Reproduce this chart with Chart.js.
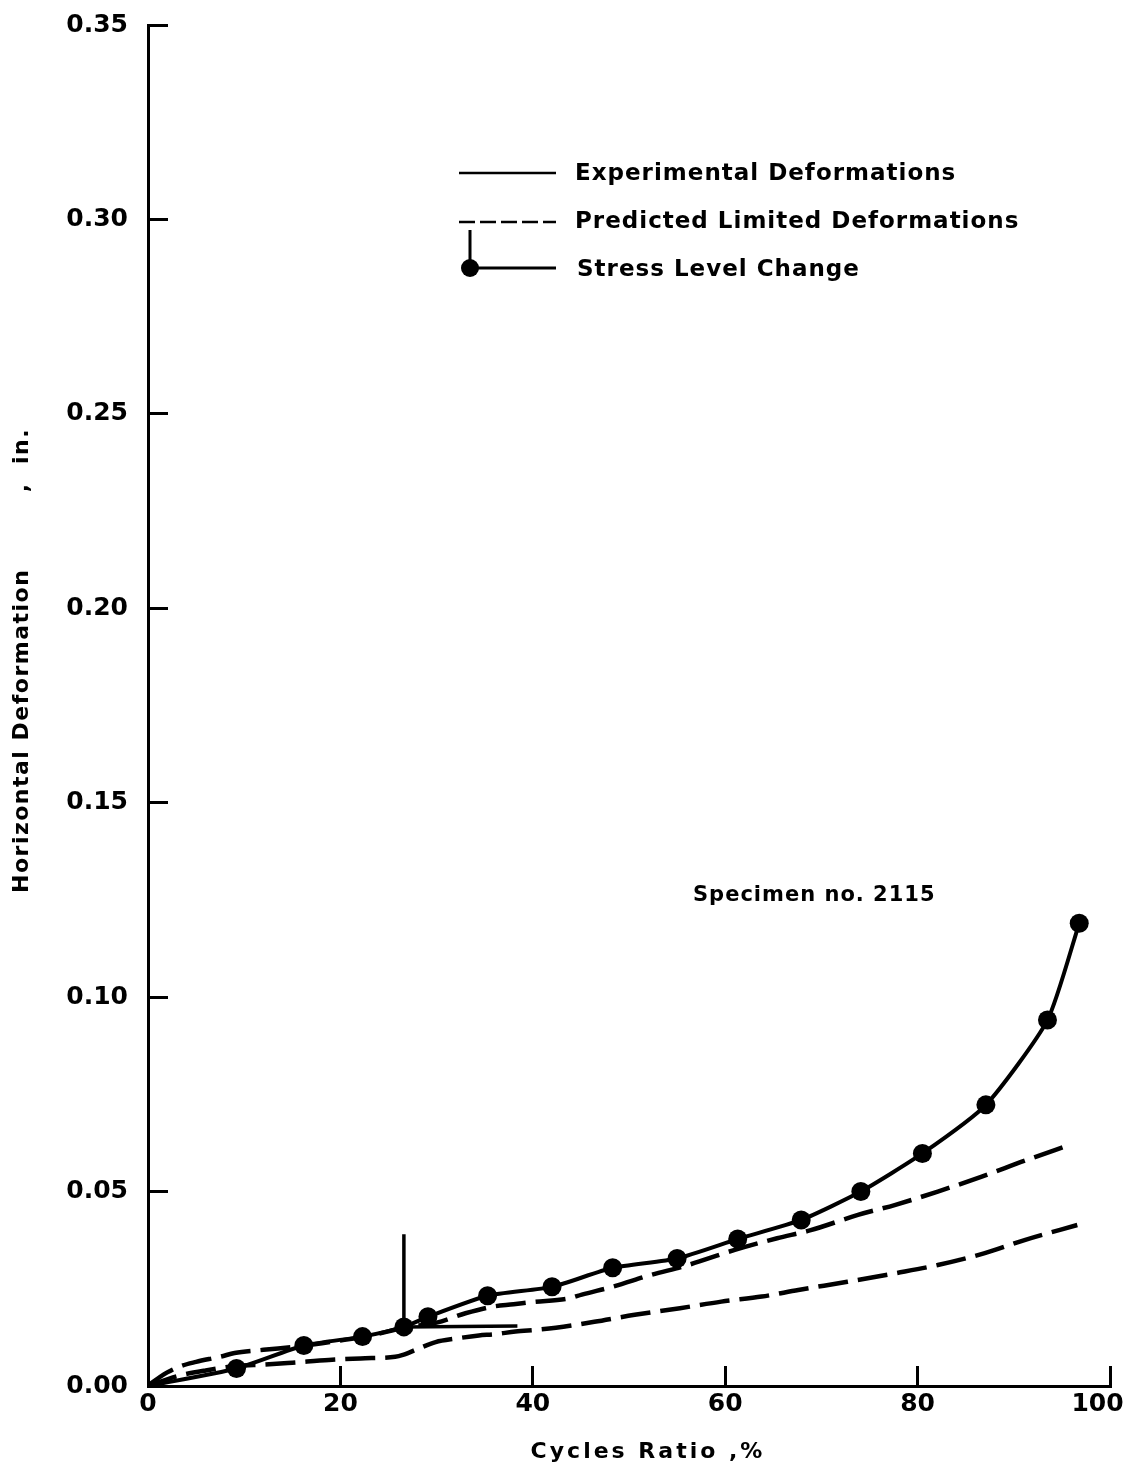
<!DOCTYPE html>
<html>
<head>
<meta charset="utf-8">
<title>Horizontal Deformation vs Cycles Ratio</title>
<script src="https://cdn.jsdelivr.net/npm/chart.js@4.4.1/dist/chart.umd.min.js"></script>
<style>
  html, body { margin: 0; padding: 0; background: #fff; }
  #wrap { width: 1125px; height: 1470px; }
</style>
</head>
<body>
<div id="wrap"><canvas id="deformChart" width="1125" height="1470"></canvas></div>
<script>
// Axis ticks
const xTicks = [0, 20, 40, 60, 80, 100];
const yTicks = [0, 0.05, 0.10, 0.15, 0.20, 0.25, 0.30, 0.35];

// Experimental deformations (measured, dots mark stress readings)
const expX = [0, 9.2, 16.2, 22.3, 26.6, 29.1, 35.3, 42.0, 48.3, 55.0, 61.3, 67.9, 74.1, 80.5, 87.1, 93.5, 96.8];
const expY = [0, 0.0045, 0.0104, 0.0127, 0.0152, 0.0178, 0.0232, 0.0255, 0.0304, 0.0328, 0.0378, 0.0427, 0.0500, 0.0598, 0.0723, 0.0941, 0.1190];

// Predicted limited deformations, upper curve
const predUpX = [0, 0.5, 2, 3.5, 5, 7.6, 9, 12, 16, 20, 23, 26.6, 30, 33, 35.8, 38, 40, 43.7, 45.1, 48.4, 52.2, 56, 61, 65.4, 68.8, 73.8, 77.7, 82.1, 86.6, 91.2, 95.8];
const predUpY = [0, 0.0010, 0.0035, 0.0052, 0.0062, 0.0076, 0.0085, 0.0093, 0.0103, 0.0117, 0.0129, 0.0150, 0.0163, 0.0187, 0.0204, 0.0210, 0.0216, 0.0225, 0.0235, 0.0256, 0.0285, 0.0310, 0.0350, 0.0380, 0.0400, 0.0440, 0.0466, 0.0500, 0.0538, 0.0580, 0.0620];

// Predicted limited deformations, lower curve
const predLowX = [0, 3, 6, 9.4, 12, 15, 18.8, 22.1, 25.7, 26.5, 28, 29.9, 32, 34.4, 36, 38.2, 40.6, 42.4, 46.4, 50.6, 55.3, 59.6, 63.8, 67.6, 72.7, 77.7, 82.1, 86.9, 91.2, 96.6];
const predLowY = [0, 0.0025, 0.0040, 0.0052, 0.0055, 0.0060, 0.0067, 0.0071, 0.0075, 0.0080, 0.0095, 0.0113, 0.0122, 0.0130, 0.0133, 0.0140, 0.0145, 0.0150, 0.0165, 0.0183, 0.0200, 0.0217, 0.0230, 0.0247, 0.0268, 0.0290, 0.0311, 0.0341, 0.0376, 0.0414];

// Stress level change marker
const stressX = [26.6, 26.6, 38.4];
const stressY = [0.039, 0.0152, 0.0154];

const toPoints = (xs, ys) => xs.map((x, i) => ({ x, y: ys[i] }));

const FONT = "'DejaVu Sans', 'Noto Sans', sans-serif";
Chart.defaults.font.family = FONT;
Chart.defaults.color = '#000';

// legend, specimen note and axis titles (letter-spaced lettering)
const figureText = {
  id: 'figureText',
  afterDraw(chart) {
    const ctx = chart.ctx;
    ctx.save();
    ctx.strokeStyle = '#000';
    ctx.fillStyle = '#000';
    ctx.lineCap = 'butt';

    // legend keys
    ctx.lineWidth = 2.5;
    ctx.beginPath(); ctx.moveTo(459, 173); ctx.lineTo(556, 173); ctx.stroke();
    ctx.setLineDash([16, 5]);
    ctx.beginPath(); ctx.moveTo(459, 222); ctx.lineTo(556, 222); ctx.stroke();
    ctx.setLineDash([]);
    ctx.lineWidth = 3;
    ctx.beginPath(); ctx.moveTo(470, 230); ctx.lineTo(470, 268); ctx.lineTo(556, 268); ctx.stroke();
    ctx.beginPath(); ctx.arc(470, 268, 9, 0, Math.PI * 2); ctx.fill();

    ctx.textBaseline = 'middle';
    ctx.textAlign = 'left';
    ctx.font = 'bold 23px ' + FONT;
    ctx.letterSpacing = '1px';
    ctx.fillText('Experimental Deformations', 575, 174);
    ctx.fillText('Predicted Limited Deformations', 575, 222);
    ctx.fillText('Stress Level Change', 577, 270);

    ctx.font = 'bold 21px ' + FONT;
    ctx.letterSpacing = '1px';
    ctx.fillText('Specimen no. 2115', 693, 896);

    // axis titles
    ctx.textAlign = 'center';
    ctx.font = 'bold 22px ' + FONT;
    ctx.letterSpacing = '3px';
    ctx.fillText('Cycles Ratio ,%', 648, 1452);

    ctx.letterSpacing = '1.5px';
    ctx.translate(22, 0);
    ctx.rotate(-Math.PI / 2);
    ctx.textAlign = 'left';
    ctx.fillText('Horizontal Deformation', -893, 0);
    ctx.textAlign = 'right';
    ctx.fillText(',  in.', -428, 0);
    ctx.restore();
  }
};

const tickFont = { family: FONT, weight: 'bold', size: 25 };

new Chart(document.getElementById('deformChart'), {
  type: 'line',
  data: {
    datasets: [
      {
        label: 'Experimental Deformations',
        data: toPoints(expX, expY),
        borderColor: '#000',
        backgroundColor: '#000',
        borderWidth: 4,
        pointRadius: expX.map(x => (x === 0 ? 0 : 9.5)),
        pointBackgroundColor: '#000',
        pointBorderWidth: 0,
        tension: 0.2,
        fill: false,
      },
      {
        label: 'Predicted Limited Deformations',
        data: toPoints(predUpX, predUpY),
        borderColor: '#000',
        borderWidth: 4.5,
        borderDash: [30, 10],
        pointRadius: 0,
        cubicInterpolationMode: 'monotone',
        fill: false,
      },
      {
        label: 'Predicted Limited Deformations (lower)',
        data: toPoints(predLowX, predLowY),
        borderColor: '#000',
        borderWidth: 4.5,
        borderDash: [30, 10],
        pointRadius: 0,
        cubicInterpolationMode: 'monotone',
        fill: false,
      },
      {
        label: 'Stress Level Change',
        data: toPoints(stressX, stressY),
        borderColor: '#000',
        borderWidth: 3.5,
        pointRadius: 0,
        tension: 0,
        fill: false,
      },
    ],
  },
  options: {
    responsive: false,
    animation: false,
    layout: { padding: { left: 0, right: 15, top: 25, bottom: 0 } },
    plugins: {
      legend: { display: false },
      tooltip: { enabled: false },
    },
    scales: {
      x: {
        type: 'linear',
        min: 0,
        max: 100,
        afterBuildTicks: s => { s.ticks = xTicks.map(v => ({ value: v })); },
        afterFit: s => { s.height = 84; s.paddingLeft = 0; s.paddingRight = 0; },
        ticks: { font: tickFont, color: '#000', padding: 23, maxRotation: 0, autoSkip: false,
                 // trailing em space pulls the last label back inside the canvas
                 callback: v => (v === 100 ? '100\u2003' : String(v)) },
        grid: { drawOnChartArea: false, drawTicks: true, tickLength: -20, lineWidth: 3, color: '#000' },
        border: { display: true, width: 3, color: '#000' },
      },
      y: {
        type: 'linear',
        min: 0,
        max: 0.35,
        afterBuildTicks: s => { s.ticks = yTicks.map(v => ({ value: v })); },
        afterFit: s => { s.width = 148; s.paddingTop = 0; s.paddingBottom = 0; },
        ticks: { font: tickFont, color: '#000', padding: 40, autoSkip: false,
                 callback: v => Number(v).toFixed(2) },
        grid: { drawOnChartArea: false, drawTicks: true, tickLength: -20, lineWidth: 3, color: '#000' },
        border: { display: true, width: 3, color: '#000' },
      },
    },
  },
  plugins: [figureText],
});
</script>
</body>
</html>
